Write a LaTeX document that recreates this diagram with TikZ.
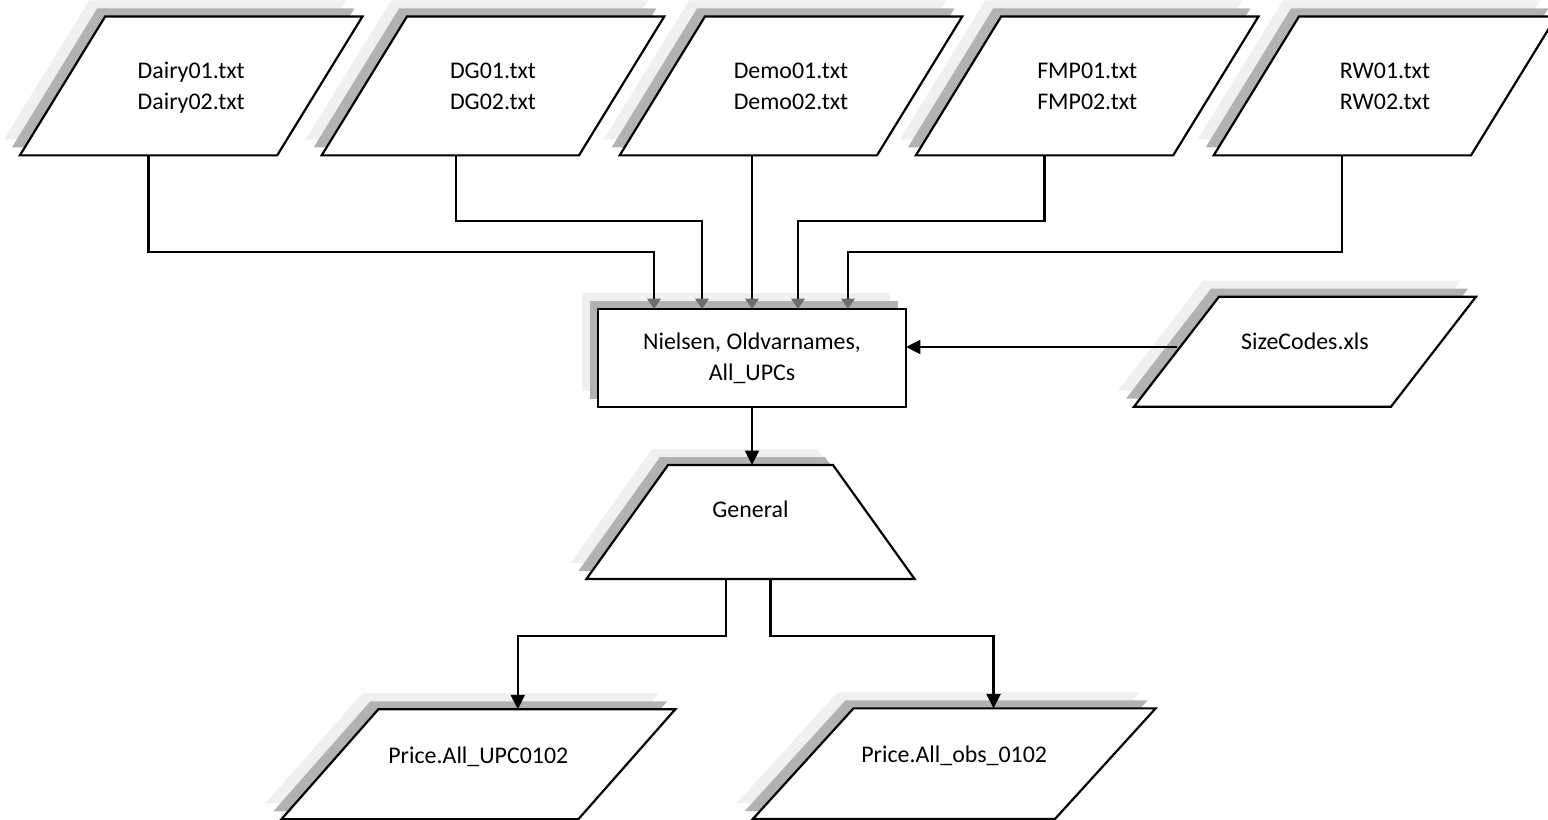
\documentclass[tikz,border=0pt]{standalone}
\usepackage{fontspec}
\setmainfont{Carlito}
\usetikzlibrary{shapes.geometric,arrows.meta,shadows}

\tikzset{
	twoshadow/.style={
		general shadow={fill=black!6, shadow xshift=-0.32cm, shadow yshift=0.32cm},
		general shadow={fill=black!30, shadow xshift=-0.16cm, shadow yshift=0.16cm}},
	shapebase/.style={draw, fill=white, line width=1.25pt, outer sep=0pt, inner sep=0pt,
		twoshadow, align=center, font=\fontsize{13.6}{17.6}\selectfont},
	datafile/.style={shapebase, trapezium,
		trapezium left angle=#1, trapezium right angle=180-#1},
	topfile/.style={datafile=58.45, text width=3.44cm, text height=1.25cm, text depth=1.53cm},
	feed/.style={line width=1.25pt, -{Triangle[length=0.21cm, width=0.27cm, color=black!57]}},
	flow/.style={line width=1.25pt, -{Triangle[length=0.29cm, width=0.28cm]}},
}

\begin{document}
\begin{tikzpicture}[x=0.02cm, y=-0.02cm]
	\useasboundingbox (0,0) rectangle (1548,820);
	% input files
	\node[topfile] (dairy) at (191.2,85.9) {Dairy01.txt\\Dairy02.txt};
	\node[topfile] (dg) at (493,85.9) {DG01.txt\\DG02.txt};
	\node[topfile] (demo) at (791,85.9) {Demo01.txt\\Demo02.txt};
	\node[topfile] (fmp) at (1087.2,85.9) {FMP01.txt\\FMP02.txt};
	\node[topfile] (rw) at (1385,85.9) {RW01.txt\\RW02.txt};
	\node[datafile=52.3, text width=3.44cm, text height=1.066cm, text depth=1.134cm] (sizes) at (1305,351.7) {SizeCodes.xls};
	% processing
	\node[shapebase, rectangle, minimum width=6.16cm, minimum height=1.96cm] (nielsen) at (752,358) {Nielsen, Oldvarnames,\\All\_UPCs};
	\node[shapebase, trapezium, trapezium left angle=54.4, trapezium right angle=54.4,
		text width=3.3cm, text height=1.04cm, text depth=1.24cm] (general) at (750.5,522) {General};
	% outputs
	\node[datafile=48.6, text width=4.0cm, text height=1.088cm, text depth=1.112cm] (upc) at (478.3,764.3) {Price.All\_UPC0102};
	\node[datafile=47.7, text width=4.03cm, text height=1.074cm, text depth=1.14cm] (obs) at (954.2,763.7) {Price.All\_obs\_0102};

	\coordinate (in1) at ([xshift=-1.96cm]nielsen.north);
	\coordinate (in2) at ([xshift=-1.0cm]nielsen.north);
	\coordinate (in3) at (nielsen.north);
	\coordinate (in4) at ([xshift=0.92cm]nielsen.north);
	\coordinate (in5) at ([xshift=1.92cm]nielsen.north);
	\coordinate (sizein) at ([yshift=0.094cm]sizes.west);

	\draw[feed] (dairy.bottom side) -- ++(0,97) -| (in1);
	\draw[feed] ([xshift=0.12cm]dg.bottom side) -- ++(0,66) -| (in2);
	\draw[feed] (demo.bottom side -| in3) -- (in3);
	\draw[feed] (fmp.bottom side) -- ++(0,66) -| (in4);
	\draw[feed] (rw.bottom side) -- ++(0,97) -| (in5);
	\draw[flow] (sizein) -- (sizein -| nielsen.east);
	\draw[flow] (nielsen.south) -- (nielsen.south |- general.top side);
	\draw[flow] ([xshift=-0.486cm]general.bottom side) -- ++(0,57) -| ([xshift=-0.18cm]upc.top side);
	\draw[flow] ([xshift=0.4cm]general.bottom side) -- ++(0,57) -| ([xshift=-0.22cm]obs.top side);
\end{tikzpicture}
\end{document}
